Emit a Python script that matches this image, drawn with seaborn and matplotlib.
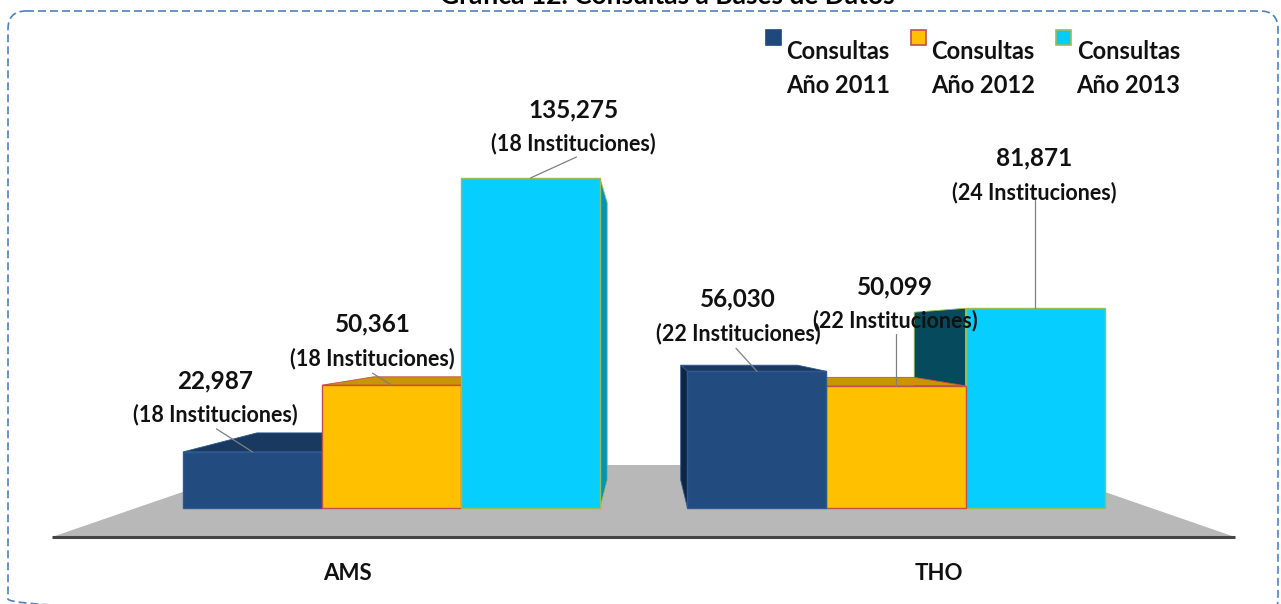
import numpy as np
import pandas as pd
import matplotlib
matplotlib.use("Agg")
import matplotlib.pyplot as plt
import seaborn as sns
from matplotlib.patches import Polygon, Rectangle, FancyBboxPatch, Patch
from matplotlib.transforms import Affine2D
from matplotlib.legend_handler import HandlerPatch
from matplotlib.lines import Line2D

# ---------------- data ----------------
grupos = ["AMS", "THO"]
anios = ["2011", "2012", "2013"]
consultas_2011 = [22987, 56030]
consultas_2012 = [50361, 50099]
consultas_2013 = [135275, 81871]
instituciones_2011 = [18, 22]
instituciones_2012 = [18, 22]
instituciones_2013 = [18, 24]
leyenda = ["Consultas\nAño 2011", "Consultas\nAño 2012", "Consultas\nAño 2013"]
titulo = "Gráfica 12. Consultas a Bases de Datos"

# ---------------- style ----------------
sns.set_theme(style="white")
plt.rcParams["font.family"] = ["Lato", "DejaVu Sans"]

front_colors = ["#224b80", "#ffc000", "#06cfff"]
edge_colors = ["#2d5b90", "#c0504d", "#9bbb59"]
top_colors = ["#1a3961", "#c89600", "#0098bb"]
left_side_colors = ["#0f2543", "#a07800", "#064b5d"]
right_side_colors = ["#16335a", "#b88a00", "#0094b6"]
legend_edges = ["#1f497d", "#c0504d", "#9bbb59"]

W, H = 1281, 604
fig = plt.figure(figsize=(W / 100, H / 100), dpi=100)
fig.patch.set_facecolor("white")
ax = fig.add_axes([0, 0, 1, 1])

df = pd.DataFrame({
    "grupo": grupos * 3,
    "anio": [a for a in anios for _ in grupos],
    "consultas": consultas_2011 + consultas_2012 + consultas_2013,
})
inst = {("2011", g): n for g, n in zip(grupos, instituciones_2011)}
inst.update({("2012", g): n for g, n in zip(grupos, instituciones_2012)})
inst.update({("2013", g): n for g, n in zip(grupos, instituciones_2013)})

GROUP_W = 0.8266
sns.barplot(data=df, x="grupo", y="consultas", hue="anio", order=grupos,
            hue_order=anios, palette=front_colors, width=GROUP_W, gap=0,
            saturation=1, legend=False, errorbar=None, ax=ax)
bars = [p for p in ax.patches if isinstance(p, Rectangle)]

# map data to the figure pixels
X0, SX = 391.5, 504.5          # pixel of category 0, pixels per category
Y0, UPP = 508.0, 409.9         # pixel of value 0, units per pixel
ax.set_xlim((0 - X0) / SX, (W - X0) / SX)
ax.set_ylim((Y0 - H) * UPP, Y0 * UPP)
ax.axis("off")

PIX = Affine2D().scale(1 / 100.0, -1 / 100.0).translate(0, H / 100.0) + fig.dpi_scale_trans


def to_pix(x, y):
    dx, dy = ax.transData.transform((x, y))
    return dx, H - dy


# perspective (one vanishing point) for the 3-D look
VX, VY, K = 645.0, 333.0, 0.16


def back(p):
    return (p[0] + K * (VX - p[0]), p[1] + K * (VY - p[1]))


# floor
floor = Polygon([(52, 537), (1235, 537), (1027, 465), (261, 465)], closed=True,
                facecolor="#b8b8b8", edgecolor="none", transform=PIX, zorder=0.5)
ax.add_patch(floor)
ax.add_line(Line2D([52, 1235], [537, 537], color="#454545", lw=2.2,
                   solid_capstyle="butt", transform=PIX, zorder=0.6))

# label layout (pixel offsets from each bar's front-top centre)
val_off = {("AMS", 0): (-37, -71), ("AMS", 1): (-19, -61), ("AMS", 2): (43, -68),
           ("THO", 0): (-19, -72), ("THO", 1): (-1, -99), ("THO", 2): (-1, -150)}
line_off = {("AMS", 0): (-36, -23), ("AMS", 1): (-19, -12), ("AMS", 2): (46, -21),
            ("THO", 0): (-21, -23), ("THO", 1): (0, -52), ("THO", 2): (0, -108)}
INST_DY = 34

bar_w = GROUP_W / 3
for p in bars:
    cx = p.get_x() + p.get_width() / 2
    g = int(round(cx))
    h = int(round((cx - g) / bar_w)) + 1
    grp = grupos[g]
    value = p.get_height()
    rank = h if g == 0 else 3 + (2 - h)
    z = 2 + rank * 0.1

    xl, yt = to_pix(p.get_x(), value)
    xr, yb = to_pix(p.get_x() + p.get_width(), 0)

    faces = []
    if yt > VY:   # top visible
        faces.append(([(xl, yt), (xr, yt), back((xr, yt)), back((xl, yt))], top_colors[h]))
    if xr < VX:   # right side visible
        faces.append(([(xr, yt), (xr, yb), back((xr, yb)), back((xr, yt))], right_side_colors[h]))
    if xl > VX:   # left side visible
        faces.append(([(xl, yt), (xl, yb), back((xl, yb)), back((xl, yt))], left_side_colors[h]))
    for pts, col in faces:
        ax.add_patch(Polygon(pts, closed=True, facecolor=col, edgecolor=edge_colors[h],
                             lw=0.6, transform=PIX, zorder=z))
    p.set_zorder(z + 0.05)
    p.set_edgecolor(edge_colors[h])
    p.set_linewidth(1.0)

    # labels
    tcx = (xl + xr) / 2
    vdx, vdy = val_off[(grp, h)]
    ldx, ldy = line_off[(grp, h)]
    ax.add_line(Line2D([tcx + ldx, tcx], [yt + ldy, yt], color="#808080", lw=0.9,
                       transform=PIX, zorder=5))
    ax.text(tcx + vdx, yt + vdy, f"{int(value):,}", transform=PIX, ha="center",
            va="center", fontsize=17.5, fontweight="bold", color="#111111", zorder=6)
    ax.text(tcx + vdx, yt + vdy + INST_DY, f"({inst[(anios[h], grp)]} Instituciones)",
            transform=PIX, ha="center", va="center", fontsize=15.5,
            fontweight="bold", color="#111111", zorder=6)

# category labels (centred under each half of the floor)
for i, gname in enumerate(grupos):
    cxp = 52 + (1235 - 52) * (0.25 + 0.5 * i)
    ax.text(cxp, 573, gname, transform=PIX, ha="center", va="center",
            fontsize=16, fontweight="bold", color="#111111")

# legend
FS_LEG = 17
S_PX = 15


def square(legend, orig_handle, xdescent, ydescent, width, height, fontsize):
    s = S_PX * 0.72
    yc = 41 * 0.72
    return Rectangle((-xdescent, yc - s / 2), s, s)


handles = [Patch(facecolor=c, edgecolor=e, linewidth=1.2)
           for c, e in zip(["#1f497d", "#ffc000", "#00ccff"], legend_edges)]
leg = ax.legend(handles, leyenda, ncol=3, frameon=False, loc="upper left",
                bbox_to_anchor=(766 / W, 1 - 40 / H), bbox_transform=fig.transFigure,
                prop={"family": "Lato", "weight": "bold", "size": FS_LEG},
                handlelength=S_PX * 0.72 / FS_LEG, handletextpad=0.21,
                columnspacing=0.9, borderpad=0, borderaxespad=0,
                handler_map={Patch: HandlerPatch(patch_func=square)})
for t in leg.get_texts():
    t.set_linespacing(1.6)
    t.set_multialignment("center")
    t.set_color("#111111")
leg.set_zorder(7)

# dashed rounded border (bottom edge lies just below the picture)
border = FancyBboxPatch((8, 11), 1270, 606, boxstyle="round,pad=0,rounding_size=18",
                        facecolor="none", edgecolor="#4f81bd", lw=1.2,
                        linestyle=(0, (4.8, 2.4)), transform=PIX, zorder=0.2)
ax.add_patch(border)

# title (mostly outside the top edge, as in the original)
fig.text(667 / W, 1 - 4 / H, titulo, ha="center", va="baseline", fontsize=19,
         fontweight="bold", color="black")

fig.savefig("out.png", dpi=100, facecolor="white")
